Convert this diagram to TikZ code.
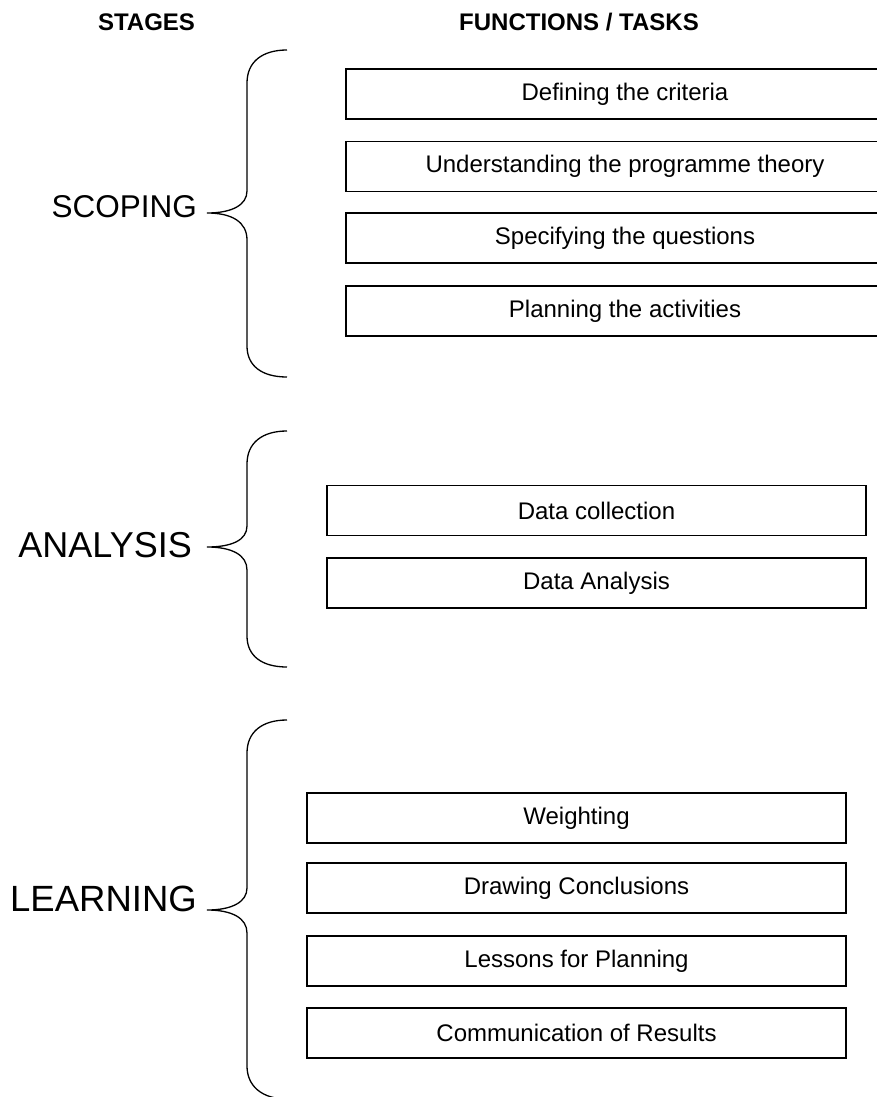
\documentclass[tikz,border=0pt]{standalone}
\usepackage{fontspec}
\setmainfont{Liberation Sans}
\begin{document}
\begin{tikzpicture}[x=1pt,y=-1pt,
  header/.style={font=\fontsize{24}{28}\bfseries\selectfont, inner sep=0pt, anchor=center},
  stage/.style={inner sep=0pt, anchor=base east},
  taskbox/.style={draw, line width=1.3pt, rectangle, minimum height=50pt, inner sep=0pt,
     font=\fontsize{24}{28}\selectfont},
  bracepath/.style={draw, line width=1.3pt}
]
\useasboundingbox (0,0) rectangle (877,1097);

% headers
\node[header] (hstages) at (146.5,22.5) {STAGES};
\node[header] (htasks) at (579,22.5) {FUNCTIONS / TASKS};

% stage labels
\node[stage, font=\fontsize{31.5}{36}\selectfont] (scoping) at (197,217) {SCOPING};
\node[stage, font=\fontsize{36}{40}\selectfont] (analysis) at (192,557) {ANALYSIS};
\node[stage, font=\fontsize{36.5}{40}\selectfont] (learning) at (197,911) {LEARNING};

% braces
\draw[bracepath] (287,50) .. controls (262,50) and (247,62) .. (247,83)
  -- (247,191) .. controls (247,205) and (232,213) .. (207,213)
  .. controls (232,213) and (247,222) .. (247,240)
  -- (247,346) .. controls (247,366) and (262,377) .. (287,377);

\draw[bracepath] (287,431) .. controls (262,431) and (247,443) .. (247,464)
  -- (247,526) .. controls (247,540) and (232,547) .. (207,547)
  .. controls (232,547) and (247,555) .. (247,570)
  -- (247,636) .. controls (247,656) and (262,667) .. (287,667);

\draw[bracepath] (287,720) .. controls (262,720) and (247,732) .. (247,753)
  -- (247,888) .. controls (247,902) and (232,910) .. (207,910)
  .. controls (232,910) and (247,918) .. (247,933)
  -- (247,1066) .. controls (247,1086) and (262,1099) .. (287,1099);

% scoping boxes
\node[taskbox, minimum width=558pt] (s1) at (625,94) {Defining the criteria};
\node[taskbox, minimum width=558pt] (s2) at (625,166.5) {Understanding the programme theory};
\node[taskbox, minimum width=558pt] (s3) at (625,238) {Specifying the questions};
\node[taskbox, minimum width=558pt] (s4) at (625,311) {Planning the activities};

% analysis boxes
\node[taskbox, minimum width=539pt] (a1) at (596.5,510.5) {Data collection};
\node[taskbox, minimum width=539pt] (a2) at (596.5,583) {Data Analysis};

% learning boxes
\node[taskbox, minimum width=539pt] (l1) at (576.5,818) {Weighting};
\node[taskbox, minimum width=539pt] (l2) at (576.5,888) {Drawing Conclusions};
\node[taskbox, minimum width=539pt] (l3) at (576.5,961) {Lessons for Planning};
\node[taskbox, minimum width=539pt] (l4) at (576.5,1033) {Communication of Results};
\end{tikzpicture}
\end{document}
